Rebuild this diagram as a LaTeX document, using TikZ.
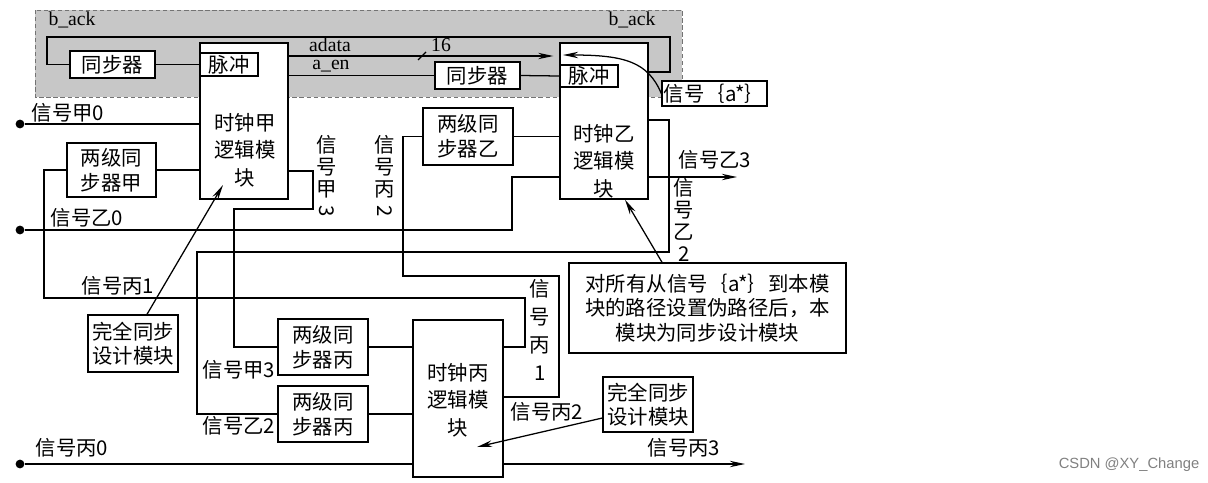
\documentclass[tikz,border=0pt]{standalone}
\usepackage{fontspec}
\setmainfont{Liberation Serif}
\newfontfamily\cjk{Noto Sans CJK SC}
\newfontfamily\marcafont{Liberation Sans}
\usepackage{graphicx}
\usetikzlibrary{arrows.meta}

\tikzset{
  caja/.style={draw, line width=1pt, fill=white, inner sep=0pt, align=center,
    font=\cjk\fontsize{14.5}{17.5}\selectfont},
  reloj/.style={caja, minimum width=22mm, minimum height=39mm},
  texto/.style={inner sep=0pt, align=center, font=\cjk\fontsize{14.5}{17.5}\selectfont},
  latin/.style={inner sep=0pt, font=\fontsize{14}{16}\selectfont},
  vertical/.style={inner sep=0pt, align=center, font=\cjk\fontsize{14.5}{15.5}\selectfont},
  cable/.style={line width=0.9pt},
  flecha/.style={line width=0.9pt, -{Stealth[length=3.8mm,width=1.6mm]}},
  punto/.style={circle, fill=black, inner sep=0pt, minimum size=2.2mm},
}

\begin{document}
\begin{tikzpicture}[x=0.25mm, y=-0.25mm]
    \useasboundingbox (0,0) rectangle (1208,482);

    % Zona gris del dominio asincrono
    \draw[densely dashed, draw=black!55, fill=black!22] (35,10) rectangle (682,97);
    \node[latin] (backA) at (72,20) {b\_ack};
    \node[latin] (backB) at (632,20) {b\_ack};

    % Bloques de reloj
    \node[reloj] (clkA) at (244,121) {};
    \node[reloj] (clkB) at (604,121) {};
    \node[reloj, minimum width=22.5mm, minimum height=39.25mm] (clkC) at (458,398.5) {};
    \node[texto, font=\cjk\fontsize{14.5}{19.5}\selectfont] (clkAtxt) at (245,150) {时钟甲\\逻辑模\\块};
    \node[texto, font=\cjk\fontsize{14.5}{19.5}\selectfont] (clkBtxt) at (604,161) {时钟乙\\逻辑模\\块};
    \node[texto, font=\cjk\fontsize{14.5}{19.5}\selectfont] (clkCtxt) at (458,400) {时钟丙\\逻辑模\\块};

    % Pulsos y sincronizadores
    \node[caja, minimum width=14.5mm, minimum height=5.75mm] (pulsoA) at (229,64.5) {脉冲};
    \node[caja, minimum width=14.5mm, minimum height=5.5mm] (pulsoB) at (589,76) {脉冲};
    \node[caja, minimum width=21.25mm, minimum height=6.75mm] (sincA) at (112.5,64.5) {同步器};
    \node[caja, minimum width=21.25mm, minimum height=6.75mm] (sincB) at (477.5,75.5) {同步器};
    \node[caja, minimum width=26.25mm, minimum height=6.25mm] (astar) at (714.5,93.5) {信号｛a*｝};

    % Sincronizadores de dos etapas
    \node[caja, minimum width=22.25mm, minimum height=13.5mm] (dosA) at (111.5,170) {两级同\\步器甲};
    \node[caja, minimum width=22.5mm, minimum height=14.25mm] (dosB) at (468,136.5) {两级同\\步器乙};
    \node[caja, minimum width=22.5mm, minimum height=14mm] (dosC1) at (323,347) {两级同\\步器丙};
    \node[caja, minimum width=22.5mm, minimum height=14mm] (dosC2) at (323,414) {两级同\\步器丙};

    % Notas
    \node[caja, minimum width=22.5mm, minimum height=14.25mm] (sincTotA) at (133,343.5) {完全同步\\设计模块};
    \node[caja, minimum width=22.5mm, minimum height=13.75mm] (sincTotC) at (648,404.5) {完全同步\\设计模块};
    \node[caja, minimum width=69.25mm, minimum height=22.5mm] (nota) at (707.5,308) {对所有从信号｛a*｝到本模\\块的路径设置伪路径后，本\\模块为同步设计模块};

    % Entradas
    \node[punto] (inA) at (20,124) {};
    \node[punto] (inB) at (20,230) {};
    \node[punto] (inC) at (20,464) {};
    \coordinate (aEntra) at (563,55);
    \coordinate (outB3) at (737,177);
    \coordinate (outC3) at (745,464);
    \coordinate (dentroA) at (223,185);
    \coordinate (dentroC) at (477,447);

    % Lazo b_ack
    \draw[cable] (clkB.east |- 0,72) -- (670,72) |- (47,37) |- (sincA.west);
    \draw[cable] (sincA.east) -- (pulsoA.west);
    % adata y a_en
    \draw[flecha, shorten >=1.5mm] (clkA.east |- 0,56) -- (clkB.west |- 0,56);
    \draw[cable] (418,60) -- (426,52);
    \node[latin] (adata) at (330,45) {adata};
    \node[latin] (aen) at (331,66) {a\_en};
    \node[latin] (ancho) at (441,45) {16};
    \draw[cable] (clkA.east |- sincB.west) -- (sincB.west);
    \draw[cable] (sincB.east) -- (pulsoB.west);
    \draw[flecha] (astar.west) .. controls (648,62) and (625,55) .. (aEntra);

    % Senales del reloj A
    \draw[cable] (inA) -- (clkA.west |- inA);
    \node[texto] (lA0) at (68,113) {信号甲0};
    \draw[cable] (dosA.east) -- (clkA.west |- dosA.east);
    \draw[cable] (clkA.east |- 0,171) -- (313,171) |- (234,209) |- (dosC1.west);
    \node[vertical] (vA3) at (327,177) {信\\号\\甲\\\rotatebox[origin=c]{-90}{3}};
    \node[texto] (lA3) at (239,370) {信号甲3};

    % Senales del reloj B
    \draw[cable] (inB) -- (512,230) |- (clkB.west |- 0,177);
    \node[texto] (lB0) at (87,218) {信号乙0};
    \draw[cable] (dosB.east) -- (clkB.west |- dosB.east);
    \draw[flecha] (clkB.east |- outB3) -- (outB3);
    \node[texto] (lB3) at (715,160) {信号乙3};
    \draw[cable] (clkB.east |- 0,120) -- (669,120) |- (197,252) |- (dosC2.west);
    \node[vertical] (vB2) at (684,220) {信\\号\\乙\\2};
    \node[texto] (lB2) at (239,426) {信号乙2};

    % Senales del reloj C
    \draw[cable] (inC) -- (clkC.west |- inC);
    \node[texto] (lC0) at (72,448) {信号丙0};
    \draw[cable] (dosC1.east) -- (clkC.west |- dosC1.east);
    \draw[cable] (dosC2.east) -- (clkC.west |- dosC2.east);
    \draw[cable] (clkC.east |- 0,347) -- (525,347) |- (44,298) |- (dosA.west);
    \node[texto] (lC1) at (118,286) {信号丙1};
    \node[vertical, font=\cjk\fontsize{14.5}{20}\selectfont] (vC1) at (540,330) {信\\号\\丙\\1};
    \draw[cable] (clkC.east |- 0,397) -- (559,397) |- (403,276) |- (dosB.west);
    \node[vertical] (vC2) at (385,177) {信\\号\\丙\\\rotatebox[origin=c]{-90}{2}};
    \node[texto] (lC2) at (547,412) {信号丙2};
    \draw[flecha] (clkC.east |- outC3) -- (outC3);
    \node[texto] (lC3) at (684,448) {信号丙3};

    % Flechas de las notas
    \draw[flecha] (nota.north -| 662,0) -- (clkB.south -| 625,0);
    \draw[flecha] (sincTotA.north -| 147,0) -- (dentroA);
    \draw[flecha] (sincTotC.west |- 0,418) -- (dentroC);

    % Marca de agua
    \node[font=\marcafont\fontsize{10.5}{12}\selectfont, text=black!50, inner sep=0pt] (marca) at (1129,465) {CSDN @XY\_Change};
\end{tikzpicture}
\end{document}
